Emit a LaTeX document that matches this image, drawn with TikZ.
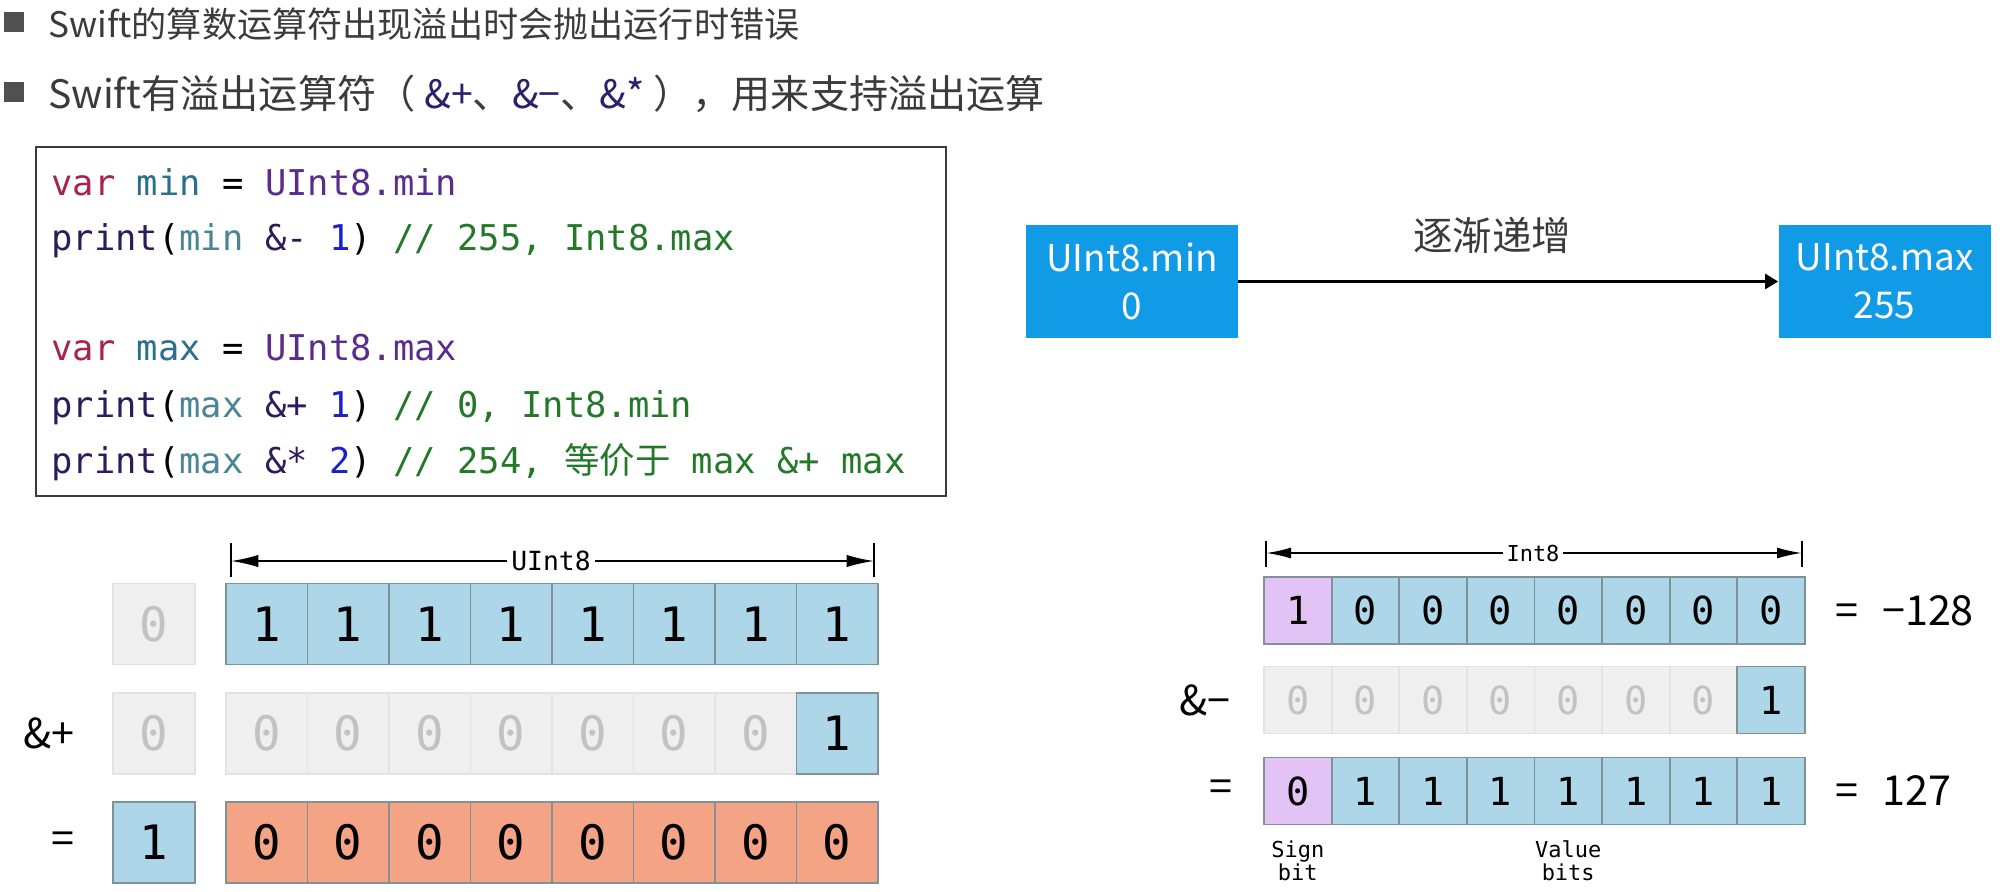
\documentclass[tikz,border=0pt]{standalone}
\usepackage{fontspec}
\setmainfont{Noto Sans CJK SC}
\setmonofont{DejaVu Sans Mono}
\newfontfamily\cjk{Noto Sans CJK SC}
\usetikzlibrary{positioning, arrows.meta}

\definecolor{headgray}{HTML}{3B3B3B}
\definecolor{bulgray}{HTML}{505050}
\definecolor{opnavy}{HTML}{2D1F6E}
\definecolor{boxblue}{HTML}{119AE6}
\definecolor{cellblue}{HTML}{AED6E9}
\definecolor{cellline}{HTML}{7F9199}
\definecolor{offfill}{HTML}{EFEFEF}
\definecolor{offline}{HTML}{E2E2E2}
\definecolor{offtext}{HTML}{C2C2C2}
\definecolor{redfill}{HTML}{F4A484}
\definecolor{signfill}{HTML}{E3C3F5}
\definecolor{kwcol}{HTML}{A8234F}
\definecolor{idcol}{HTML}{2B6E8E}
\definecolor{typecol}{HTML}{5A2D8C}
\definecolor{fncol}{HTML}{2C1C5C}
\definecolor{argcol}{HTML}{4A8595}
\definecolor{numcol}{HTML}{1B20CF}
\definecolor{cmtcol}{HTML}{23782A}

\tikzset{
  sqbullet/.style={fill=bulgray, minimum size=0.42cm, inner sep=0pt},
  headline/.style={font=\fontsize{20}{24}\selectfont, text=headgray, inner sep=0pt, anchor=west},
  codeline/.style={font=\ttfamily\fontsize{20.2}{24}\selectfont, inner sep=0pt, anchor=base west},
  bluebox/.style={fill=boxblue, text=white, minimum width=4.24cm, minimum height=2.28cm,
    align=center, font=\fontsize{21}{27.5}\selectfont},
  bitbig/.style={minimum width=1.63cm, minimum height=1.62cm, inner sep=0pt, line width=1pt,
    font=\ttfamily\fontsize{27}{27}\selectfont},
  bitsmall/.style={minimum width=1.352cm, minimum height=1.34cm, inner sep=0pt, line width=1pt,
    font=\ttfamily\fontsize{22}{22}\selectfont},
  cellon/.style={draw=cellline, fill=cellblue},
  celloff/.style={draw=offline, fill=offfill, text=offtext},
  cellred/.style={draw=cellline, fill=redfill},
  cellsign/.style={draw=cellline, fill=signfill},
  oplabel/.style={font=\fontsize{23.5}{23.5}\selectfont, inner sep=0pt},
  eqlabel/.style={font=\fontsize{23.5}{23.5}\selectfont, inner sep=0pt},
  dimlabel/.style={fill=white, inner sep=2pt, font=\ttfamily\fontsize{15}{15}\selectfont},
  tickline/.style={line width=1.1pt},
}

\begin{document}
\begin{tikzpicture}[x=0.02cm, y=-0.02cm]
  \useasboundingbox (0,0) rectangle (2004,892);

  % header
  \node[sqbullet] (bul1) at (14,22) {};
  \node[headline] (head1) at (48,24) {Swift的算数运算符出现溢出时会抛出运行时错误};
  \node[sqbullet] (bul2) at (14,92) {};
  \node[headline, font=\fontsize{22.3}{26}\selectfont] (head2) at (48,94) {Swift有溢出运算符（ \textcolor{opnavy}{\&+}、\textcolor{opnavy}{\&−}、\textcolor{opnavy}{\&*} ），用来支持溢出运算};

  % code
  \node[draw=headgray, line width=1.1pt, minimum width=18.2cm, minimum height=6.98cm] (codebox) at (491,321.5) {};
  \node[codeline] (ln1) at (51,195) {\textcolor{kwcol}{var} \textcolor{idcol}{min} = \textcolor{typecol}{UInt8.min}};
  \node[codeline] (ln2) at (51,250) {\textcolor{fncol}{print}(\textcolor{argcol}{min} \textcolor{fncol}{\&-} \textcolor{numcol}{1}) \textcolor{cmtcol}{// 255, Int8.max}};
  \node[codeline] (ln3) at (51,360) {\textcolor{kwcol}{var} \textcolor{idcol}{max} = \textcolor{typecol}{UInt8.max}};
  \node[codeline] (ln4) at (51,417) {\textcolor{fncol}{print}(\textcolor{argcol}{max} \textcolor{fncol}{\&+} \textcolor{numcol}{1}) \textcolor{cmtcol}{// 0, Int8.min}};
  \node[codeline] (ln5) at (51,473) {\textcolor{fncol}{print}(\textcolor{argcol}{max} \textcolor{fncol}{\&*} \textcolor{numcol}{2}) \textcolor{cmtcol}{// 254, {\cjk 等价于} max \&+ max}};

  % UInt8 range
  \node[bluebox] (minbox) at (1132,281.5) {UInt8.min\\0};
  \node[bluebox] (maxbox) at (1884.5,281.5) {UInt8.max\\255};
  \draw[line width=1.3pt, -{Triangle[length=0.26cm, width=0.3cm]}] (minbox) -- (maxbox)
    node[pos=0.47, above=0.42cm, font=\fontsize{22.5}{22.5}\selectfont, text=headgray] (grow) {逐渐递增};

  % UInt8 overflow, &+
  \node[bitbig, celloff] (ax) at (154,624) {0};
  \foreach \b [count=\i] in {1,1,1,1,1,1,1,1}
    \node[bitbig, cellon] (a-\i) at ({226+81.5*(\i-0.5)},624) {\b};
  \node[bitbig, celloff] (bx) at (154,733.5) {0};
  \foreach \s/\b [count=\i] in {celloff/0,celloff/0,celloff/0,celloff/0,celloff/0,celloff/0,celloff/0,cellon/1}
    \node[bitbig, \s] (b-\i) at ({226+81.5*(\i-0.5)},733.5) {\b};
  \node[bitbig, cellon] (cx) at (154,842.5) {1};
  \foreach \b [count=\i] in {0,0,0,0,0,0,0,0}
    \node[bitbig, cellred] (c-\i) at ({226+81.5*(\i-0.5)},842.5) {\b};
  \node[oplabel, left=0.76cm of bx] (addop) {\&+};
  \node[oplabel, left=0.76cm of cx] (addeq) {=};

  \coordinate (uL) at (231,561);
  \coordinate (uR) at (874,561);
  \draw[tickline] (231,543) -- (231,577) (874,543) -- (874,577);
  \node[dimlabel] (ulab) at (551,561) {UInt8};
  \draw[tickline, -{Latex[length=0.55cm, width=0.25cm]}] (ulab.west) -- (uL);
  \draw[tickline, -{Latex[length=0.55cm, width=0.25cm]}] (ulab.east) -- (uR);

  % Int8 overflow, &-
  \foreach \s/\b [count=\i] in {cellsign/1,cellon/0,cellon/0,cellon/0,cellon/0,cellon/0,cellon/0,cellon/0}
    \node[bitsmall, \s] (p-\i) at ({1264+67.6*(\i-0.5)},610.5) {\b};
  \foreach \s/\b [count=\i] in {celloff/0,celloff/0,celloff/0,celloff/0,celloff/0,celloff/0,celloff/0,cellon/1}
    \node[bitsmall, \s] (q-\i) at ({1264+67.6*(\i-0.5)},700) {\b};
  \foreach \s/\b [count=\i] in {cellsign/0,cellon/1,cellon/1,cellon/1,cellon/1,cellon/1,cellon/1,cellon/1}
    \node[bitsmall, \s] (r-\i) at ({1264+67.6*(\i-0.5)},791) {\b};
  \node[eqlabel, anchor=west, right=0.58cm of p-8] (minres) {=\hspace{0.3cm} −128};
  \node[eqlabel, anchor=west, right=0.58cm of r-8] (maxres) {=\hspace{0.3cm} 127};
  \node[oplabel, left=0.64cm of q-1] (subop) {\&−};
  \node[oplabel, left=0.6cm of r-1] (subeq) {=};
  \node[below=0.3cm of r-1, align=center, inner sep=0pt, font=\ttfamily\fontsize{12.5}{13}\selectfont] (signlab) {Sign\\bit};
  \node[below=0.3cm of r-5, align=center, inner sep=0pt, font=\ttfamily\fontsize{12.5}{13}\selectfont] (vallab) {Value\\bits};

  \coordinate (iL) at (1266,553);
  \coordinate (iR) at (1802,553);
  \draw[tickline] (1266,541) -- (1266,567) (1802,541) -- (1802,567);
  \node[dimlabel, font=\ttfamily\fontsize{12.5}{12.5}\selectfont] (ilab) at (1533,553) {Int8};
  \draw[tickline, -{Latex[length=0.5cm, width=0.22cm]}] (ilab.west) -- (iL);
  \draw[tickline, -{Latex[length=0.5cm, width=0.22cm]}] (ilab.east) -- (iR);
\end{tikzpicture}
\end{document}
